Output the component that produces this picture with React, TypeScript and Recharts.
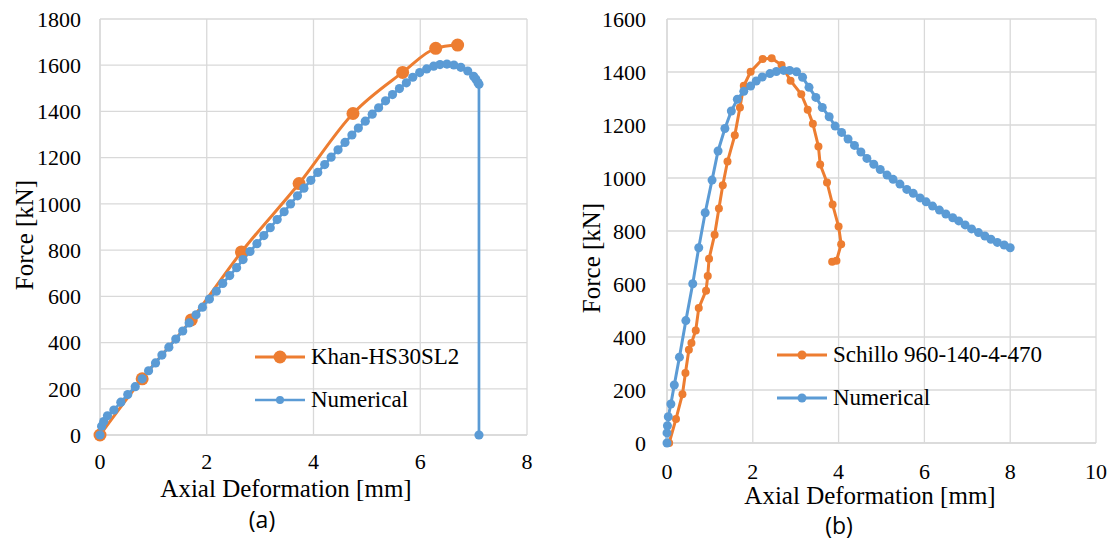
import { LineChart, Line, XAxis, YAxis, CartesianGrid } from "recharts";

// (a) Khan-HS30SL2 test vs numerical
const khanX = [0, 0.79, 1.71, 2.65, 3.73, 4.74, 5.67, 6.29, 6.7];
const khanY = [0, 243, 498, 792, 1088, 1391, 1569, 1673, 1687];

const numAX = [
  0, 0.03, 0.07, 0.14, 0.26, 0.39, 0.52, 0.66, 0.79, 0.91, 1.04, 1.16, 1.29, 1.42, 1.55, 1.67, 1.8, 1.92,
  2.05, 2.18, 2.3, 2.43, 2.56, 2.68, 2.81, 2.94, 3.07, 3.19, 3.32, 3.45, 3.57, 3.7, 3.82, 3.95, 4.08, 4.21,
  4.33, 4.46, 4.59, 4.72, 4.84, 4.97, 5.1, 5.22, 5.35, 5.48, 5.61, 5.74, 5.86, 5.99, 6.12, 6.25, 6.37, 6.5,
  6.63, 6.76, 6.89, 7.0, 7.04, 7.08, 7.1, 7.1,
];
const numAY = [
  0, 38, 58, 83, 108, 142, 175, 209, 243, 278, 312, 346, 380, 415, 450, 485, 520, 553,
  588, 622, 656, 690, 724, 759, 794, 828, 863, 897, 932, 966, 1000, 1035, 1068, 1102, 1136, 1170,
  1202, 1234, 1266, 1298, 1328, 1358, 1388, 1416, 1446, 1473, 1499, 1524, 1548, 1568, 1584, 1596, 1603, 1605,
  1601, 1591, 1575, 1552, 1540, 1525, 1518, 0,
];

// (b) Schillo 960-140-4-470 test vs numerical
const schilloX = [
  0.05, 0.21, 0.36, 0.43, 0.51, 0.57, 0.67, 0.74, 0.91, 0.95, 0.98, 1.11, 1.21, 1.3, 1.41, 1.58, 1.7,
  1.79, 1.95, 2.23, 2.44, 2.67, 2.88, 3.13, 3.28, 3.4, 3.53, 3.57, 3.73, 3.86, 4.0, 4.06, 3.95, 3.85,
];
const schilloY = [
  0, 91, 184, 264, 352, 377, 425, 509, 575, 630, 695, 786, 885, 973, 1062, 1161, 1266,
  1348, 1401, 1449, 1452, 1426, 1367, 1316, 1258, 1205, 1119, 1051, 983, 900, 817, 750, 688, 684,
];

const numBX = [
  0, 0, 0.01, 0.03, 0.09, 0.17, 0.29, 0.44, 0.6, 0.74, 0.89, 1.05, 1.19, 1.35, 1.5, 1.64, 1.79, 1.95,
  2.08, 2.22, 2.4, 2.55, 2.72, 2.86, 3.02, 3.16, 3.31, 3.47, 3.62, 3.78, 3.92, 4.07, 4.22, 4.37, 4.52,
  4.66, 4.82, 4.97, 5.13, 5.27, 5.43, 5.59, 5.74, 5.9, 6.04, 6.19, 6.35, 6.5, 6.66, 6.8, 6.95, 7.1,
  7.26, 7.41, 7.55, 7.7, 7.86, 8.0,
];
const numBY = [
  0, 38, 65, 99, 147, 219, 324, 462, 601, 737, 869, 992, 1102, 1187, 1253, 1297, 1327, 1347,
  1366, 1381, 1394, 1402, 1406, 1406, 1401, 1380, 1342, 1304, 1266, 1231, 1196, 1172, 1147, 1123, 1098,
  1074, 1052, 1032, 1011, 995, 977, 957, 942, 925, 910, 894, 879, 864, 850, 838, 823, 808,
  794, 781, 769, 757, 747, 737,
];

const ticksA_X = [0, 2, 4, 6, 8];
const ticksA_Y = [0, 200, 400, 600, 800, 1000, 1200, 1400, 1600, 1800];
const ticksB_X = [0, 2, 4, 6, 8, 10];
const ticksB_Y = [0, 200, 400, 600, 800, 1000, 1200, 1400, 1600];

const ORANGE = "#ED7D31";
const BLUE = "#5B9BD5";
const GRID = "#d9d9d9";
const SERIF = "'Liberation Serif', 'Times New Roman', serif";

const zip = (xs: number[], ys: number[]) => xs.map((x, i) => ({ x, y: ys[i] }));

// serif tick text, drawn at the position the axis hands over
function SerifTick(props: any) {
  const { x, y, payload, textAnchor, verticalAnchor } = props;
  const dy = verticalAnchor === "start" ? "0.71em" : "0.355em";
  return (
    <text x={x} y={y} dy={dy} textAnchor={textAnchor} style={{ fontFamily: SERIF, fontSize: 22, fill: "#000" }}>
      {payload.value}
    </text>
  );
}

type LegendItem = { label: string; color: string; r: number; width: number };

function LegendBox({ items, left, top }: { items: LegendItem[]; left: number; top: number }) {
  return (
    <div style={{ position: "absolute", left, top, fontFamily: SERIF, fontSize: 23, color: "#000" }}>
      {items.map((it) => (
        <div key={it.label} style={{ display: "flex", alignItems: "center", height: 43 }}>
          <svg width={54} height={20} style={{ marginRight: 3 }}>
            <line x1={1} y1={10} x2={51} y2={10} stroke={it.color} strokeWidth={it.width} />
            <circle cx={26} cy={10} r={it.r} fill={it.color} />
          </svg>
          <span style={{ lineHeight: "24px", whiteSpace: "nowrap" }}>{it.label}</span>
        </div>
      ))}
    </div>
  );
}

function Title({ text, cx, cy, rotate, size, font }: { text: string; cx: number; cy: number; rotate?: boolean; size: number; font?: string }) {
  return (
    <div
      style={{
        position: "absolute",
        left: cx,
        top: cy,
        transform: `translate(-50%, -50%)${rotate ? " rotate(-90deg)" : ""}`,
        whiteSpace: "nowrap",
        fontFamily: font || SERIF,
        fontSize: size,
        color: "#000",
        lineHeight: 1,
      }}
    >
      {text}
    </div>
  );
}

export default function App() {
  const khan = zip(khanX, khanY);
  const numA = zip(numAX, numAY);
  const schillo = zip(schilloX, schilloY);
  const numB = zip(numBX, numBY);

  return (
    <div
      style={{
        position: "absolute",
        left: 0,
        top: 0,
        width: 1111,
        height: 539,
        background: "#fff",
        overflow: "hidden",
        fontFamily: SERIF,
      }}
    >
      <div style={{ position: "absolute", left: 0, top: 0 }}>
        <LineChart width={560} height={539} margin={{ top: 19, right: 33, left: 0, bottom: 0 }}>
          <CartesianGrid stroke={GRID} strokeWidth={1.3} />
          <XAxis
            type="number"
            dataKey="x"
            domain={[0, 8]}
            ticks={ticksA_X}
            height={104}
            tickLine={false}
            axisLine={{ stroke: GRID, strokeWidth: 1.3 }}
            tick={<SerifTick />}
            tickMargin={12}
          />
          <YAxis
            type="number"
            dataKey="y"
            domain={[0, 1800]}
            ticks={ticksA_Y}
            width={100}
            tickLine={false}
            axisLine={{ stroke: GRID, strokeWidth: 1.3 }}
            tick={<SerifTick />}
            tickMargin={13}
          />
          <Line
            data={khan}
            dataKey="y"
            name="Khan-HS30SL2"
            type="monotone"
            stroke={ORANGE}
            strokeWidth={3}
            dot={{ r: 6.5, fill: ORANGE, stroke: ORANGE, strokeWidth: 0 }}
            isAnimationActive={false}
          />
          <Line
            data={numA}
            dataKey="y"
            name="Numerical"
            type="linear"
            stroke={BLUE}
            strokeWidth={2.7}
            dot={{ r: 4.6, fill: BLUE, stroke: BLUE, strokeWidth: 0 }}
            isAnimationActive={false}
          />
        </LineChart>
      </div>

      <div style={{ position: "absolute", left: 560, top: 0 }}>
        <LineChart width={551} height={539} margin={{ top: 19, right: 15, left: 0, bottom: 0 }}>
          <CartesianGrid stroke={GRID} strokeWidth={1.3} />
          <XAxis
            type="number"
            dataKey="x"
            domain={[0, 10]}
            ticks={ticksB_X}
            height={96}
            tickLine={false}
            axisLine={{ stroke: GRID, strokeWidth: 1.3 }}
            tick={<SerifTick />}
            tickMargin={14}
          />
          <YAxis
            type="number"
            dataKey="y"
            domain={[0, 1600]}
            ticks={ticksB_Y}
            width={107}
            tickLine={false}
            axisLine={{ stroke: GRID, strokeWidth: 1.3 }}
            tick={<SerifTick />}
            tickMargin={15}
          />
          <Line
            data={schillo}
            dataKey="y"
            name="Schillo 960-140-4-470"
            type="linear"
            stroke={ORANGE}
            strokeWidth={3}
            dot={{ r: 4, fill: ORANGE, stroke: ORANGE, strokeWidth: 0 }}
            isAnimationActive={false}
          />
          <Line
            data={numB}
            dataKey="y"
            name="Numerical"
            type="linear"
            stroke={BLUE}
            strokeWidth={3}
            dot={{ r: 4.5, fill: BLUE, stroke: BLUE, strokeWidth: 0 }}
            isAnimationActive={false}
          />
        </LineChart>
      </div>

      <LegendBox
        left={254}
        top={335}
        items={[
          { label: "Khan-HS30SL2", color: ORANGE, r: 6.5, width: 3 },
          { label: "Numerical", color: BLUE, r: 4, width: 2.5 },
        ]}
      />
      <LegendBox
        left={776}
        top={333}
        items={[
          { label: "Schillo 960-140-4-470", color: ORANGE, r: 4.5, width: 3 },
          { label: "Numerical", color: BLUE, r: 4.5, width: 3 },
        ]}
      />

      <Title text="Force [kN]" cx={24} cy={235} rotate size={25} />
      <Title text="Axial Deformation [mm]" cx={286} cy={488} size={25} />
      <Title text="(a)" cx={262} cy={519} size={23} font="'Open Sans', sans-serif" />

      <Title text="Force [kN]" cx={591} cy={258} rotate size={25} />
      <Title text="Axial Deformation [mm]" cx={870} cy={495} size={25} />
      <Title text="(b)" cx={839} cy={525} size={23} font="'Open Sans', sans-serif" />
    </div>
  );
}
